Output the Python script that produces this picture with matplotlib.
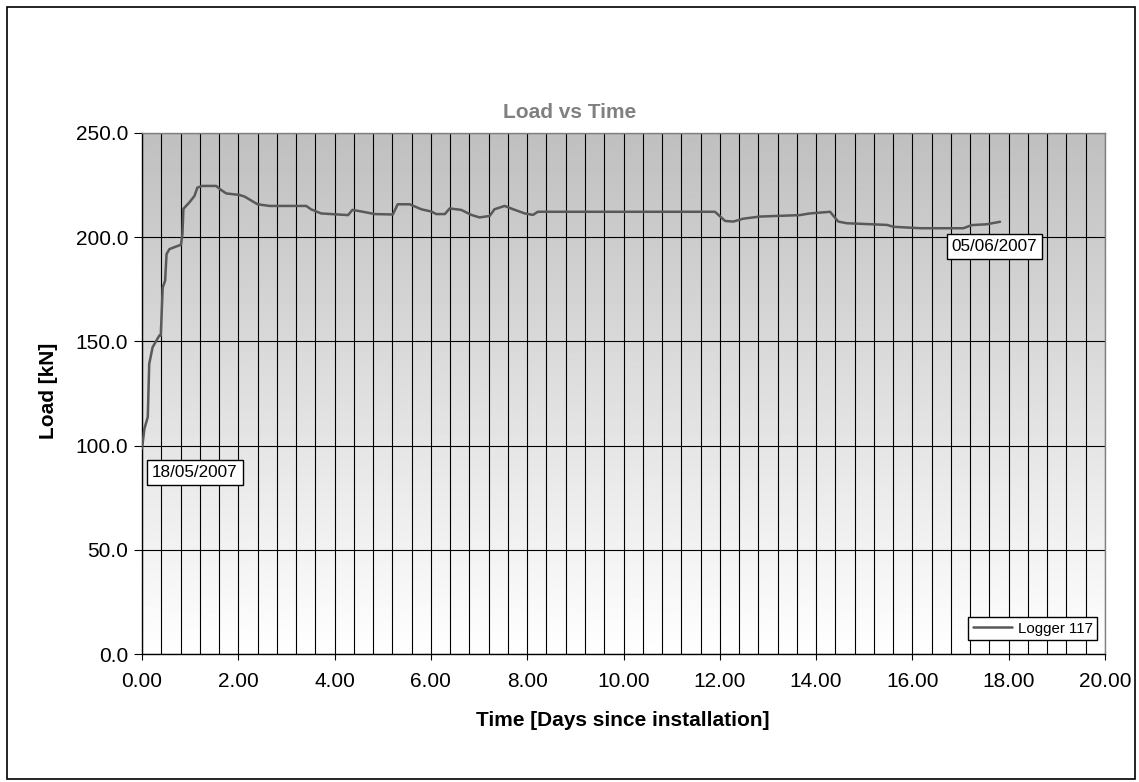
import numpy as np
import matplotlib.pyplot as plt
from matplotlib.patches import Rectangle
from matplotlib.ticker import MultipleLocator, FormatStrFormatter

plt.rcParams['font.family'] = ['Liberation Sans', 'DejaVu Sans']

# logger readings: days since installation vs load
days = [0.00, 0.05, 0.12, 0.15, 0.22, 0.36, 0.39, 0.43, 0.48, 0.51,
        0.57, 0.81, 0.84, 0.86, 0.98, 1.09, 1.15, 1.25, 1.54, 1.64,
        1.75, 2.02, 2.13, 2.40, 2.65, 3.41, 3.51, 3.72, 4.28, 4.37,
        4.59, 4.83, 5.21, 5.31, 5.56, 5.80, 6.01, 6.11, 6.29, 6.39,
        6.63, 6.84, 7.01, 7.22, 7.32, 7.53, 7.71, 7.95, 8.12, 8.22,
        11.90, 12.11, 12.28, 12.49, 12.83, 13.66, 13.87, 14.29, 14.46, 14.64,
        15.47, 15.61, 16.17, 17.06, 17.23, 17.54, 17.82]
load_kn = [98.5, 108.1, 113.7, 139.2, 147.2, 152.8, 152.8, 175.9, 179.1, 191.9,
           194.3, 196.4, 201.5, 213.6, 216.6, 219.8, 223.8, 224.6, 224.6, 222.7,
           221.0, 220.3, 219.5, 215.8, 215.0, 215.0, 213.4, 211.4, 210.6, 213.1,
           212.2, 211.1, 210.9, 215.8, 215.8, 213.4, 212.3, 211.1, 211.1, 213.8,
           213.1, 210.7, 209.5, 210.2, 213.4, 215.0, 213.4, 211.4, 210.7, 212.2,
           212.2, 207.8, 207.5, 208.9, 209.9, 210.6, 211.4, 212.2, 207.5, 206.7,
           205.9, 205.0, 204.3, 204.3, 205.8, 206.2, 207.4]
series_name = "Logger 117"
start_date = "18/05/2007"
end_date = "05/06/2007"

W, H = 1139, 782
fig = plt.figure(figsize=(W / 100, H / 100), dpi=100)
fig.patch.set_facecolor('white')

# outer chart border
fig.add_artist(Rectangle((7 / W, 3 / H), (1135 - 7) / W, (775 - 3) / H,
                         transform=fig.transFigure, fill=False,
                         edgecolor='black', linewidth=1.2))

left, right, top, bottom = 142, 1105, 133, 654
ax = fig.add_axes([left / W, 1 - bottom / H, (right - left) / W, (bottom - top) / H])

# grey-to-white vertical gradient behind the plot
grad = np.linspace(0.75, 1.0, 256).reshape(-1, 1)
ax.imshow(grad, cmap='gray', vmin=0, vmax=1, aspect='auto',
          extent=[0, 1, 0, 1], transform=ax.transAxes, zorder=0)

ax.plot(days, load_kn, color='#595959', linewidth=1.8, label=series_name,
        solid_joinstyle='round', solid_capstyle='round', zorder=3)

ax.set_xlim(0, 20)
ax.set_ylim(0, 250)
ax.xaxis.set_major_locator(MultipleLocator(2))
ax.xaxis.set_minor_locator(MultipleLocator(0.4))
ax.yaxis.set_major_locator(MultipleLocator(50))
ax.xaxis.set_major_formatter(FormatStrFormatter('%.2f'))
ax.yaxis.set_major_formatter(FormatStrFormatter('%.1f'))

ax.set_axisbelow(True)
ax.grid(True, which='both', axis='x', color='black', linewidth=0.8, zorder=1)
ax.grid(True, which='major', axis='y', color='black', linewidth=0.8, zorder=1)

ax.tick_params(axis='x', which='major', direction='out', length=4, width=0.8,
               labelsize=15, pad=9)
ax.tick_params(axis='x', which='minor', length=0)
ax.tick_params(axis='y', direction='out', length=6, width=0.8, labelsize=15, pad=4)

for s in ['left', 'bottom']:
    ax.spines[s].set_color('black')
    ax.spines[s].set_linewidth(1.0)
for s in ['top', 'right']:
    ax.spines[s].set_color('#808080')
    ax.spines[s].set_linewidth(1.0)

box = dict(boxstyle='square,pad=0.3', facecolor='white', edgecolor='black', linewidth=1.0)
ax.annotate(start_date, (days[0], load_kn[0]), xytext=(38, -17),
            textcoords='offset points', ha='center', va='center',
            fontsize=12.3, bbox=box, zorder=4)
ax.annotate(end_date, (days[-1], load_kn[-1]), xytext=(-4, -18),
            textcoords='offset points', ha='center', va='center',
            fontsize=12.3, bbox=box, zorder=4)

leg = ax.legend(loc='lower right', bbox_to_anchor=(1 - 8 / (right - left), 14 / (bottom - top)),
                borderaxespad=0, fontsize=10.8, frameon=True, fancybox=False,
                handlelength=2.6, handletextpad=0.4, borderpad=0.3)
leg.get_frame().set_edgecolor('black')
leg.get_frame().set_linewidth(1.0)
leg.get_frame().set_alpha(1)

fig.text(570 / W, 1 - 112.5 / H, "Load vs Time", ha='center', va='center',
         fontsize=15, fontweight='bold', color='#808080')
fig.text(623 / W, 1 - 721 / H, "Time [Days since installation]", ha='center', va='center',
         fontsize=15, fontweight='bold')
fig.text(49 / W, 1 - 391 / H, "Load [kN]", ha='center', va='center', rotation=90,
         fontsize=15, fontweight='bold')

fig.savefig('out.png', dpi=100)
